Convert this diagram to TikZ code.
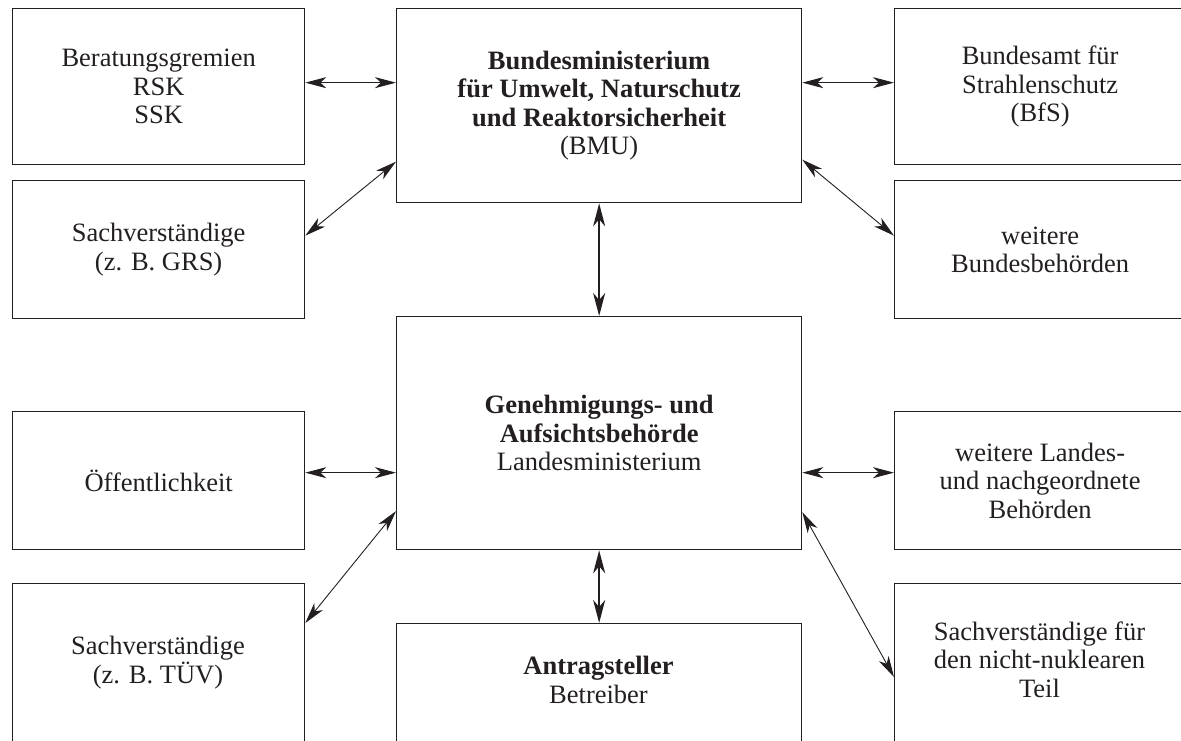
\documentclass[tikz,border=0pt]{standalone}
\usepackage{fontspec}
\setmainfont{Liberation Serif}
\usetikzlibrary{arrows.meta}
\definecolor{ink}{HTML}{231F20}
\begin{document}
\begin{tikzpicture}[x=1pt,y=-1pt,
  box/.style={draw=ink,line width=1.3pt,rectangle,inner sep=0pt,anchor=north west,
    align=center,text=ink,font=\fontsize{26.5}{28.5}\selectfont},
  lbl/.style={inner sep=0pt,align=center,text=ink,font=\fontsize{26.5}{28.5}\selectfont},
  thin/.style={draw=ink,line width=0.9pt,{Stealth[length=21pt,width=11pt,inset=6pt]}-{Stealth[length=21pt,width=11pt,inset=6pt]}},
  thick/.style={draw=ink,line width=2.2pt,{Stealth[length=23pt,width=12pt,inset=7pt]}-{Stealth[length=23pt,width=12pt,inset=7pt]}}]
\useasboundingbox (0,0) rectangle (1181,740);
\clip (0,0) rectangle (1181,740);
% left column
\node[box,minimum width=292pt,minimum height=156pt] (ber) at (12,8) {Beratungsgremien\\RSK\\SSK};
\node[box,minimum width=292pt,minimum height=138pt] (sgrs) at (12,180) {Sachverständige\\(z. B. GRS)};
\node[box,minimum width=292pt,minimum height=138pt] (oef) at (12,411) {Öffentlichkeit};
\node[box,minimum width=292pt,minimum height=220pt] (stuv) at (12,583) {};
\node[lbl,anchor=base] (stuvt) at (158,683) {Sachverständige\\(z. B. TÜV)};
% center column
\node[box,minimum width=405pt,minimum height=194pt] (bmu) at (396,8) {\textbf{Bundesministerium}\\\textbf{für Umwelt, Naturschutz}\\\textbf{und Reaktorsicherheit}\\(BMU)};
\node[box,minimum width=405pt,minimum height=233pt] (gen) at (396,316) {\textbf{Genehmigungs- und}\\\textbf{Aufsichtsbehörde}\\Landesministerium};
\node[box,minimum width=405pt,minimum height=200pt] (antr) at (396,623) {};
\node[lbl,anchor=base] (antrt) at (598.5,703) {\textbf{Antragsteller}\\Betreiber};
% right column
\node[box,minimum width=291pt,minimum height=156pt] (bfs) at (894,8) {Bundesamt für\\Strahlenschutz\\(BfS)};
\node[box,minimum width=291pt,minimum height=138pt] (wbb) at (894,180) {weitere\\Bundesbehörden};
\node[box,minimum width=291pt,minimum height=138pt] (wlb) at (894,411) {weitere Landes-\\und nachgeordnete\\Behörden};
\node[box,minimum width=291pt,minimum height=220pt] (snn) at (894,583) {};
\node[lbl,anchor=base] (snnt) at (1039.5,697) {Sachverständige für\\den nicht-nuklearen\\Teil};
% connectors
\draw[thin] ([yshift=4pt]ber.east) -- ([yshift=4pt]ber.east -| bmu.west);
\draw[thin] ([yshift=14pt]sgrs.east) -- ([yshift=-56pt]bmu.west);
\draw[thin] ([yshift=4pt]bfs.west -| bmu.east) -- ([yshift=4pt]bfs.west);
\draw[thin] ([yshift=-54pt]bmu.east) -- ([yshift=14pt]wbb.west);
\draw[thick] (bmu.south) -- (gen.north);
\draw[thin] ([yshift=8pt]oef.east) -- ([yshift=8pt]oef.east -| gen.west);
\draw[thin] ([yshift=-40pt]stuv.north east) -- ([yshift=-78pt]gen.west);
\draw[thin] ([yshift=8pt]wlb.west -| gen.east) -- ([yshift=8pt]wlb.west);
\draw[thin] ([yshift=-79pt]gen.east) -- ([yshift=-94pt]snn.north west);
\draw[thick] (gen.south) -- (antr.north);
\end{tikzpicture}
\end{document}
